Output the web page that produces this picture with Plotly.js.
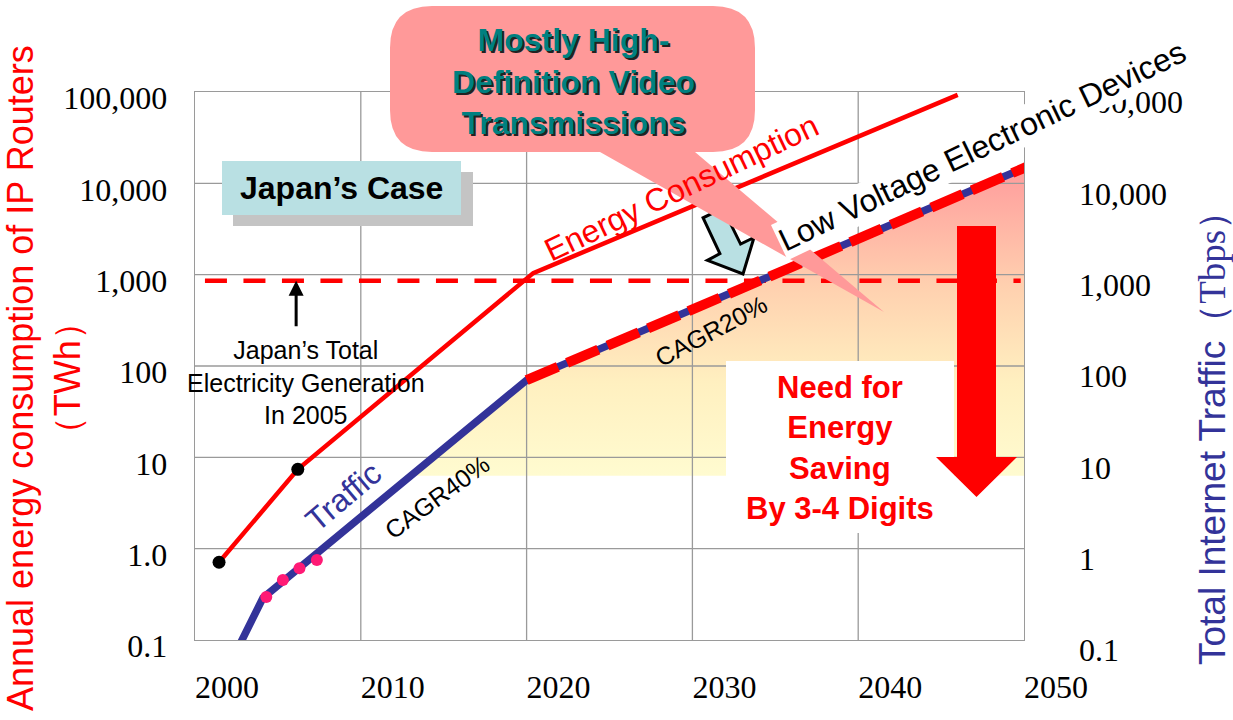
<!DOCTYPE html>
<html><head><meta charset="utf-8">
<script src="https://cdn.plot.ly/plotly-3.0.1.min.js"></script>
<style>html,body{margin:0;padding:0;background:#fff;}#chart{width:1233px;height:720px;}</style>
</head><body><div id="chart"></div>
<script>
// ---- data ----
const xTicks = [2000, 2010, 2020, 2030, 2040, 2050];
const xTickLabels = ['2000', '2010', '2020', '2030', '2040', '2050'];
const yTicks = [0.1, 1, 10, 100, 1000, 10000, 100000];
const leftTickLabels = ['0.1', '1.0', '10', '100', '1,000', '10,000', '100,000'];
const rightTickLabels = ['0.1', '1', '10', '100', '1,000', '10,000', '100,000'];

const energyYears = [2001.45, 2006.2, 2020.4, 2046.0];
const energyTWh = [0.71, 7.4, 1040, 93000];
const energyDotYears = [2001.45, 2006.2];
const energyDotTWh = [0.71, 7.4];

const trafficYears = [2002.75, 2004.1, 2020.0, 2050.4];
const trafficTbps = [0.093, 0.29, 70, 15800];
const trafficForecastYears = [2020.0, 2050.4];
const trafficForecastTbps = [70, 15800];
const trafficDotYears = [2004.3, 2005.3, 2006.3, 2007.35];
const trafficDotTbps = [0.296, 0.454, 0.61, 0.75];

const japanGenYears = [2000.6, 2049.8];
const japanGenTWh = [860, 860];

const shadeYears = [2013.0, 2020.0, 2050.0, 2050.0];
const shadeTbps = [6.3, 70, 14800, 6.3];

// ---- layout helpers (pixel -> paper) ----
const L = 195, R = 1024, T = 92, B = 640;
const px = v => (v - L) / (R - L);
const py = v => (B - v) / (B - T);
const path = pts => 'M' + pts.map(p => px(p[0]).toFixed(5) + ',' + py(p[1]).toFixed(5)).join(' L') + ' Z';

const SANS = 'Liberation Sans';
const SERIF = 'Liberation Serif';

// gridlines drawn as a trace so they sit above the shaded area
const gx = [], gy = [];
xTicks.slice(1, -1).forEach(x => { gx.push(x, x, null); gy.push(yTicks[0], yTicks[yTicks.length - 1], null); });
yTicks.slice(1, -1).forEach(y => { gx.push(xTicks[0], xTicks[xTicks.length - 1], null); gy.push(y, y, null); });

const traces = [
  { x: shadeYears, y: shadeTbps, mode: 'none', fill: 'toself',
    fillgradient: { type: 'vertical', colorscale: [[0, '#FFFBD0'], [0.3, '#FFF0C0'], [0.6, '#FFD2B0'], [1, '#FF9C9C']] } },
  { x: gx, y: gy, mode: 'lines', line: { color: '#9a9a9a', width: 1.3 } },
  { x: japanGenYears, y: japanGenTWh, mode: 'lines', line: { color: '#FF0000', width: 4.5, dash: '22px,16.5px' } },
  { x: energyYears, y: energyTWh, mode: 'lines', line: { color: '#FF0000', width: 4.5 } },
  { x: energyDotYears, y: energyDotTWh, mode: 'markers', marker: { color: '#000', size: 13 } },
  { x: trafficYears, y: trafficTbps, mode: 'lines', line: { color: '#333399', width: 7.5 }, cliponaxis: false },
  { x: trafficForecastYears, y: trafficForecastTbps, mode: 'lines', line: { color: '#FF0000', width: 10, dash: '34px,10px' }, cliponaxis: false },
  { x: trafficDotYears, y: trafficDotTbps, mode: 'markers', marker: { color: '#FF1A75', size: 12 } },
  { x: trafficYears, y: trafficTbps, yaxis: 'y2', mode: 'lines', line: { width: 0 } }
];

const shapes = [
  { type: 'rect', xref: 'paper', yref: 'paper', x0: px(233), x1: px(473), y0: py(172), y1: py(226), fillcolor: '#C4C4C4', line: { width: 0 }, layer: 'above' },
  { type: 'rect', xref: 'paper', yref: 'paper', x0: px(222), x1: px(461), y0: py(161), y1: py(215), fillcolor: '#B9E0E3', line: { width: 0 }, layer: 'above' },
  { type: 'rect', xref: 'paper', yref: 'paper', x0: px(726), x1: px(954), y0: py(361), y1: py(533), fillcolor: '#FFFFFF', line: { width: 0 }, layer: 'above' },
  { type: 'path', xref: 'paper', yref: 'paper', layer: 'above', fillcolor: '#FF0000', line: { width: 0 },
    path: path([[957, 226], [996, 226], [996, 457], [1017, 457], [976.5, 497], [936, 457], [957, 457]]) },
  { type: 'path', xref: 'paper', yref: 'paper', layer: 'above', fillcolor: '#B9E0E3', line: { color: '#000', width: 3 },
    path: path([[703.1, 217.8], [719.9, 253.7], [707.4, 260.3], [743, 274], [754, 237.5], [740.6, 244.1], [722.9, 208.2]]) },
  { type: 'path', xref: 'paper', yref: 'paper', layer: 'above', fillcolor: '#FF9999', line: { width: 0 },
    path: (() => {
      const p = (a, b) => px(a).toFixed(5) + ',' + py(b).toFixed(5);
      const x0 = 390, x1 = 755, y0 = 6, y1 = 152, r = 42;
      return 'M' + p(x0 + r, y0) + ' L' + p(x1 - r, y0) + ' Q' + p(x1, y0) + ' ' + p(x1, y0 + r) +
        ' L' + p(x1, y1 - r) + ' Q' + p(x1, y1) + ' ' + p(x1 - r, y1) +
        ' L' + p(695, y1) + ' L' + p(884, 312) + ' L' + p(600, y1) +
        ' L' + p(x0 + r, y1) + ' Q' + p(x0, y1) + ' ' + p(x0, y1 - r) +
        ' L' + p(x0, y0 + r) + ' Q' + p(x0, y0) + ' ' + p(x0 + r, y0) + ' Z';
    })() }
];

const ann = (text, cx, cy, size, color, extra) => Object.assign({
  text, xref: 'paper', yref: 'paper', x: px(cx), y: py(cy), xanchor: 'center', yanchor: 'middle',
  showarrow: false, font: { family: SANS, size, color }
}, extra || {});

const bubbleText = '<b>Mostly High-<br>Definition Video<br>Transmissions</b>';
const annotations = [
  ann('Annual energy consumption of IP Routers<br>（TWh）', 44, 378, 36, '#FF0000', { textangle: -90 }),
  ann('Total Internet Traffic<span style="font-family:Liberation Serif">（Tbps）</span>', 1212, 429, 37, '#333399', { textangle: -90 }),
  ann('<b>Japan’s Case</b>', 341, 188, 32, '#000'),
  ann('Japan’s Total<br>Electricity Generation<br>In 2005', 306, 382, 25, '#000'),
  ann(bubbleText, 573, 81, 32, '#222', { xshift: 2, yshift: -2 }),
  ann(bubbleText, 573, 81, 32, '#008080'),
  ann('Energy Consumption', 681, 188, 32, '#FF0000', { textangle: -25.5 }),
  ann('Low Voltage Electronic Devices', 982, 146, 32, '#000', { textangle: -25.5, bgcolor: '#FFFFFF', borderpad: 1 }),
  ann('CAGR20%', 711, 331, 25, '#000', { textangle: -28 }),
  ann('CAGR40%', 437, 497, 25, '#000', { textangle: -36 }),
  ann('Traffic', 343, 497, 32, '#333399', { textangle: -40 }),
  ann('<b>Need for<br>Energy<br>Saving<br>By 3-4 Digits</b>', 840, 448, 31, '#FF0000'),
  { text: '', x: 2006.1, y: Math.log10(japanGenTWh[0]), xref: 'x', yref: 'y', showarrow: true,
    ax: 0, ay: 47, arrowhead: 2, arrowsize: 1, arrowwidth: 3, arrowcolor: '#000', standoff: 0 }
];

const tickFont = { family: SERIF, size: 32, color: '#000' };
const layout = {
  width: 1233, height: 720,
  font: { family: SERIF, size: 32, color: '#000' },
  margin: { l: L, r: 1233 - R, t: T, b: 720 - B },
  paper_bgcolor: '#FFFFFF', plot_bgcolor: '#FFFFFF',
  showlegend: false,
  xaxis: {
    range: [xTicks[0], xTicks[xTicks.length - 1]], tickmode: 'array', tickvals: xTicks, ticktext: xTickLabels,
    showgrid: false, zeroline: false, showline: true, mirror: true, linecolor: '#9a9a9a', linewidth: 1.3,
    ticks: '', tickfont: tickFont, ticklabelshift: 32, ticklabelstandoff: 18
  },
  yaxis: {
    type: 'log', range: [-1, 5], tickmode: 'array', tickvals: yTicks, ticktext: leftTickLabels,
    showgrid: false, zeroline: false, showline: true, mirror: true, linecolor: '#9a9a9a', linewidth: 1.3,
    ticks: '', tickfont: tickFont, ticklabelstandoff: 20, ticklabelshift: 6
  },
  yaxis2: {
    type: 'log', range: [-1, 5], overlaying: 'y', side: 'right', tickmode: 'array', tickvals: yTicks, ticktext: rightTickLabels,
    showgrid: false, zeroline: false, showline: false,
    ticks: '', tickfont: tickFont, ticklabelstandoff: 54, ticklabelshift: 10
  },
  shapes, annotations
};

traces.forEach(t => { t.hoverinfo = 'skip'; t.showlegend = false; });
Plotly.newPlot('chart', traces, layout, { displayModeBar: false, staticPlot: true });
</script>
</body></html>
